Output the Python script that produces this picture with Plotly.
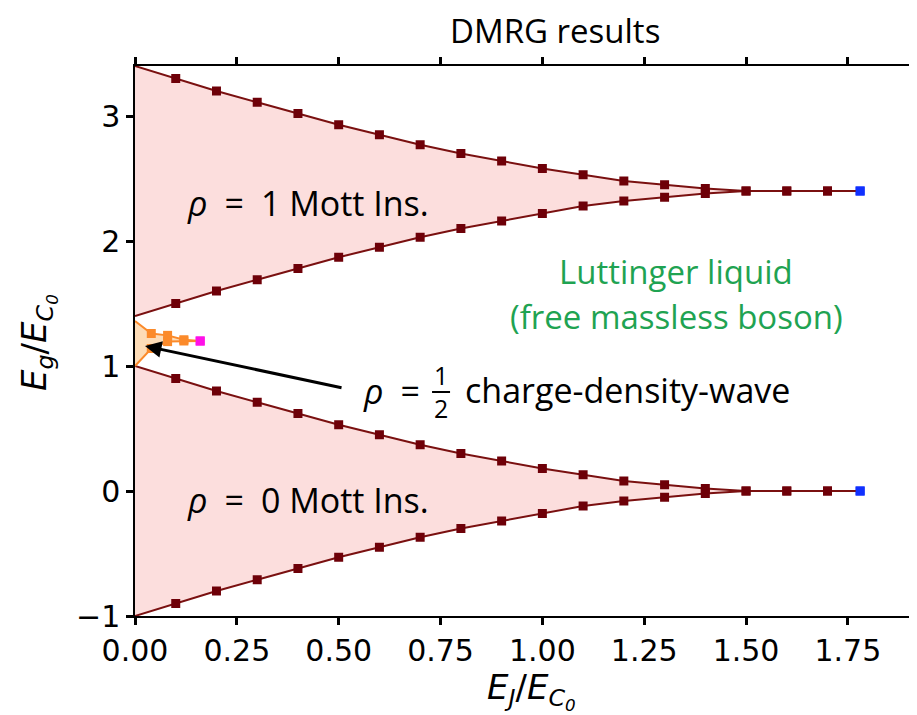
import plotly.graph_objects as go

# ---------------- data ----------------
EJ = [0.0, 0.1, 0.2, 0.3, 0.4, 0.5, 0.6, 0.7, 0.8, 0.9,
      1.0, 1.1, 1.2, 1.3, 1.4, 1.5, 1.6, 1.7]

top_upper = [3.40, 3.30, 3.20, 3.11, 3.02, 2.93, 2.85, 2.77, 2.70, 2.64,
             2.58, 2.53, 2.48, 2.45, 2.42, 2.40, 2.40, 2.40]
top_lower = [1.40, 1.50, 1.60, 1.69, 1.78, 1.87, 1.95, 2.03, 2.10, 2.16,
             2.22, 2.28, 2.32, 2.35, 2.38, 2.40, 2.40, 2.40]

bot_upper = [1.00, 0.90, 0.80, 0.71, 0.62, 0.53, 0.45, 0.37, 0.30, 0.24,
             0.18, 0.13, 0.08, 0.05, 0.02, 0.00, 0.00, 0.00]
bot_lower = [-1.00, -0.90, -0.80, -0.71, -0.62, -0.53, -0.45, -0.37, -0.30, -0.24,
             -0.18, -0.12, -0.08, -0.05, -0.02, 0.00, 0.00, 0.00]

end_EJ = 1.78
top_end = 2.40
bot_end = 0.00

cdw_EJ = [0.0, 0.04, 0.08, 0.12]
cdw_upper = [1.36, 1.26, 1.245, 1.21]
cdw_lower = [1.00, 1.14, 1.195, 1.20]
cdw_end_EJ = 0.16
cdw_end = 1.20

x_ticks = [0.0, 0.25, 0.5, 0.75, 1.0, 1.25, 1.5, 1.75]
x_ticklabels = ["0.00", "0.25", "0.50", "0.75", "1.00", "1.25", "1.50", "1.75"]
y_ticks = [-1, 0, 1, 2, 3]
y_ticklabels = ["\u22121", "0", "1", "2", "3"]

# ---------------- style ----------------
DARK = "#6e0008"
LINE = "#7a1010"
FILL = "rgba(250,200,198,0.6)"
ORANGE = "#fb8a2a"
ORANGE_FILL = "rgba(253,214,170,0.85)"
TXT_FONT = "Open Sans, Lato, sans-serif"
TICK_FONT = "DejaVu Sans"
SP = "\u2002"

fig = go.Figure()

def lobe(x, up, lo, fillcol):
    fig.add_trace(go.Scatter(
        x=list(x) + list(x)[::-1], y=list(up) + list(lo)[::-1],
        mode="lines", fill="toself", fillcolor=fillcol,
        line=dict(width=0), hoverinfo="skip", showlegend=False))

lobe(EJ, top_upper, top_lower, FILL)
lobe(EJ, bot_upper, bot_lower, FILL)
lobe(cdw_EJ, cdw_upper, cdw_lower, ORANGE_FILL)

def branch(x, y, endx, endy, col_line, col_mark, end_col, size=9):
    fig.add_trace(go.Scatter(
        x=list(x) + [endx], y=list(y) + [endy], mode="lines",
        line=dict(color=col_line, width=2), showlegend=False))
    fig.add_trace(go.Scatter(
        x=list(x)[1:], y=list(y)[1:], mode="markers",
        marker=dict(symbol="square", size=size, color=col_mark),
        showlegend=False))
    fig.add_trace(go.Scatter(
        x=[endx], y=[endy], mode="markers",
        marker=dict(symbol="square", size=size, color=end_col),
        showlegend=False))

branch(EJ, top_upper, end_EJ, top_end, LINE, DARK, "#1030ff")
branch(EJ, top_lower, end_EJ, top_end, LINE, DARK, "#1030ff")
branch(EJ, bot_upper, end_EJ, bot_end, LINE, DARK, "#1030ff")
branch(EJ, bot_lower, end_EJ, bot_end, LINE, DARK, "#1030ff")
branch(cdw_EJ, cdw_upper, cdw_end_EJ, cdw_end, ORANGE, ORANGE, "#ff10e8")
branch(cdw_EJ, cdw_lower, cdw_end_EJ, cdw_end, ORANGE, ORANGE, "#ff10e8")

# ---------------- annotations (page pixel -> data) ----------------
def px2x(px):
    return (px - 135) / 407.3

def py2y(py):
    return (491 - py) / 125.0

def txt(px, py, s, size, anchor="left", color="black"):
    return dict(x=px2x(px), y=py2y(py), xanchor=anchor, yanchor="middle",
                text=s, showarrow=False,
                font=dict(family=TXT_FONT, size=size, color=color))

ann = [
    txt(185, 203, "<i>\u03c1</i>" + SP + "=" + SP + "1 Mott Ins.", 34),
    txt(185, 500, "<i>\u03c1</i>" + SP + "=" + SP + "0 Mott Ins.", 34),
    txt(676, 271, "Luttinger liquid", 33, "center", "#1fa352"),
    txt(676, 316, "(free massless boson)", 33, "center", "#1fa352"),
    txt(361, 391, "<i>\u03c1</i>" + SP + "=", 34),
    txt(441, 375, "1", 25, "center"),
    txt(441, 408, "2", 25, "center"),
    txt(463, 390, "charge-density-wave", 34),
]
# arrow
ann.append(dict(x=px2x(145), y=py2y(346), ax=px2x(343), ay=py2y(388),
                xref="x", yref="y", axref="x", ayref="y", text="",
                showarrow=True, arrowhead=2, arrowsize=1.1, arrowwidth=3,
                arrowcolor="black"))
# title and axis titles
ann.append(dict(x=(555 - 135) / 774, y=(616 - 31) / 550, xref="paper", yref="paper",
                xanchor="center", yanchor="middle", showarrow=False,
                text="DMRG results",
                font=dict(family=TXT_FONT, size=33, color="black")))
ann.append(dict(x=(531 - 135) / 774, y=(616 - 691) / 550, xref="paper", yref="paper",
                xanchor="center", yanchor="middle", showarrow=False,
                text="<i>E<sub>J</sub></i>/<i>E<sub>C<sub>0</sub></sub></i>",
                font=dict(family=TICK_FONT, size=34, color="black")))
ann.append(dict(x=(38 - 135) / 774, y=(616 - 342) / 550, xref="paper", yref="paper",
                xanchor="center", yanchor="middle", showarrow=False, textangle=-90,
                text="<i>E<sub>g</sub></i>/<i>E<sub>C<sub>0</sub></sub></i>",
                font=dict(family=TICK_FONT, size=34, color="black")))

fig.update_layout(annotations=ann)
fig.add_shape(type="line", x0=px2x(432), x1=px2x(450), y0=py2y(392), y1=py2y(392),
              line=dict(color="black", width=2))

axis_common = dict(showgrid=False, zeroline=False, showline=True, linecolor="black",
                   linewidth=1.5, mirror="allticks", ticks="outside", ticklen=7,
                   tickwidth=2.5, tickcolor="black", automargin=False,
                   tickfont=dict(family=TICK_FONT, size=30, color="black"))

# page has an 8px body margin: figure is 909x707 placed at (8,8)
fig.update_layout(
    width=909, height=707,
    margin=dict(l=127, r=8, t=58, b=99),
    paper_bgcolor="white", plot_bgcolor="white",
    xaxis=dict(range=[0, 1.9], tickvals=x_ticks, ticktext=x_ticklabels, **axis_common),
    yaxis=dict(range=[-1, 3.4], tickvals=y_ticks, ticktext=y_ticklabels, **axis_common),
)

fig.write_html("out.html")
